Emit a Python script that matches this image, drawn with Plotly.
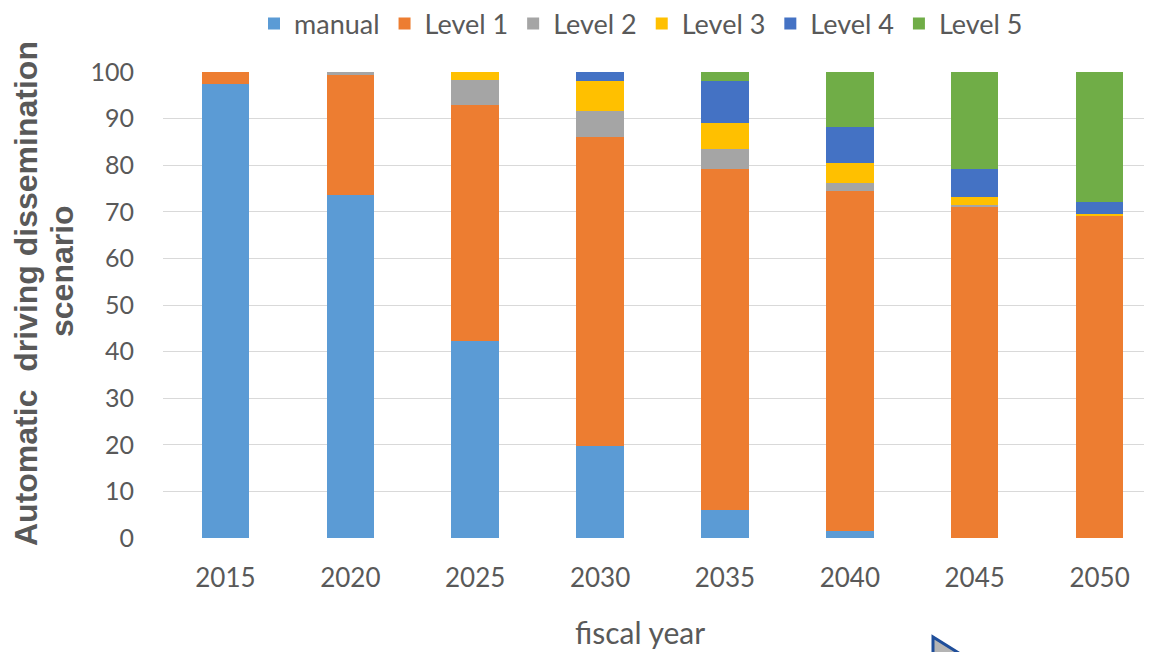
import plotly.graph_objects as go

years = ["2015", "2020", "2025", "2030", "2035", "2040", "2045", "2050"]
series_names = ["manual", "Level 1", "Level 2", "Level 3", "Level 4", "Level 5"]
manual = [97.5, 73.5, 42.3, 19.7, 6.0, 1.4, 0, 0]
level1 = [2.5, 25.9, 50.6, 66.3, 73.1, 73.1, 71.2, 69.1]
level2 = [0, 0.6, 5.4, 5.6, 4.3, 1.6, 0.2, 0.2]
level3 = [0, 0, 1.7, 6.5, 5.6, 4.3, 1.7, 0.3]
level4 = [0, 0, 0, 1.9, 9.1, 7.9, 6.1, 2.5]
level5 = [0, 0, 0, 0, 1.9, 11.7, 20.8, 27.9]
y_ticks = [0, 10, 20, 30, 40, 50, 60, 70, 80, 90, 100]
colors = ["#5B9BD5", "#ED7D31", "#A5A5A5", "#FFC000", "#4472C4", "#70AD47"]

values = [manual, level1, level2, level3, level4, level5]

OFF = 8  # page body margin
W, H = 1152 - OFF, 652 - OFF
L = 163 - OFF
T = 72 - OFF
B = H - (538 - OFF)
R = 0
pw, ph = W - L - R, H - T - B

def px(x):
    return (x - OFF - L) / pw

def py(y):
    return (H - B - (y - OFF)) / ph

fig = go.Figure()
for name, vals, col in zip(series_names, values, colors):
    fig.add_trace(go.Bar(x=years, y=vals, name=name, marker=dict(color=col, line=dict(width=0)),
                         hoverinfo="skip"))

fig.update_layout(
    barmode="stack",
    bargap=0.619,
    width=W, height=H,
    margin=dict(l=L, r=R, t=T, b=B, autoexpand=False),
    paper_bgcolor="white", plot_bgcolor="white",
    font=dict(family="Lato", color="#595959"),
    legend=dict(orientation="h", x=px(641), y=py(24), xanchor="center", yanchor="middle",
                traceorder="normal",
                font=dict(size=27, color="#595959"), itemwidth=30, tracegroupgap=0),
    xaxis=dict(range=[-0.5, 7.42], showgrid=False, showline=False, zeroline=False,
               tickfont=dict(size=26, color="#595959"), ticklabelstandoff=22),
    yaxis=dict(range=[0, 100], tickvals=y_ticks, showgrid=True, gridcolor="#D9D9D9", gridwidth=1,
               zeroline=False, showline=False, tickfont=dict(size=25, color="#595959"),
               ticklabelstandoff=28),
    showlegend=True,
)

fig.add_annotation(text="fiscal year", xref="paper", yref="paper", x=px(640), y=py(632),
                   xanchor="center", yanchor="middle", showarrow=False,
                   font=dict(size=30, color="#595959", family="Lato"))
fig.add_annotation(text="<b>Automatic\u00a0 driving dissemination</b>", xref="paper", yref="paper",
                   x=px(26), y=py(294), xanchor="center", yanchor="middle", showarrow=False,
                   textangle=-90, font=dict(size=32, color="#595959", family="Liberation Sans"))
fig.add_annotation(text="<b>scenario</b>", xref="paper", yref="paper",
                   x=px(62), y=py(271), xanchor="center", yanchor="middle", showarrow=False,
                   textangle=-90, font=dict(size=32, color="#595959", family="Liberation Sans"))

# cursor-like triangle at bottom
tri = [(933, 637), (933, 665), (978, 665)]
path = "M " + " L ".join(f"{px(x)},{py(y)}" for x, y in tri) + " Z"
fig.add_shape(type="path", path=path, xref="paper", yref="paper",
              fillcolor="#B4B4B4", line=dict(color="#1F4E9A", width=3), layer="above")

fig.write_html("out.html")
